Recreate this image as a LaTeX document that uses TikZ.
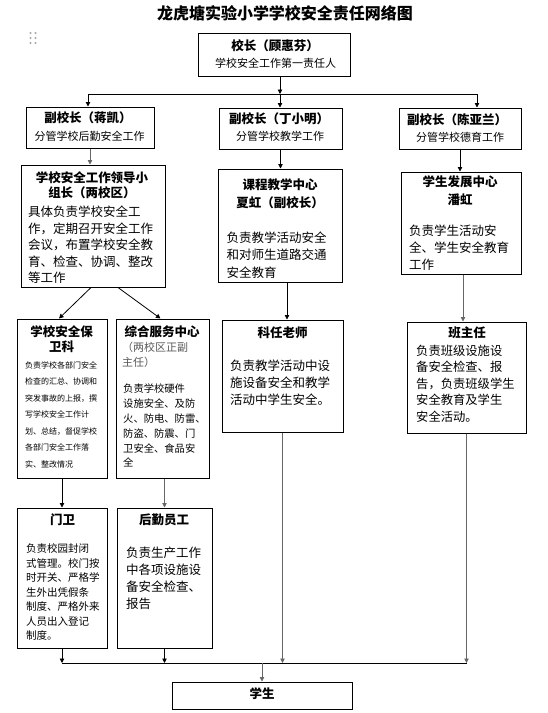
\documentclass[tikz,border=0pt]{standalone}
\usepackage{fontspec}
\setmainfont{Noto Sans CJK SC}
\usetikzlibrary{arrows.meta}
\newcommand{\setfs}[2]{\fontsize{#1pt}{#2pt}\selectfont}
\tikzset{
	box/.style={shape=rectangle, draw, line width=1pt, inner sep=0pt},
	head/.style={anchor=north, align=center, inner sep=0pt, font=\bfseries\setfs{12.5}{15}},
	sub/.style={anchor=north, align=center, inner sep=0pt, font=\setfs{11}{13}},
	body/.style={anchor=north west, align=left, inner sep=0pt},
	wire/.style={line width=0.8pt},
	link/.style={wire, -{Triangle[length=4.5pt, width=4.5pt]}},
	glink/.style={link, draw=black!60}
}

\begin{document}
\begin{tikzpicture}[x=1pt, y=-1pt]
	\useasboundingbox (0,0) rectangle (548,713);
	% Title and handle:
	\node[inner sep=0pt, font=\bfseries\setfs{16}{18}] (title) at (285,13){龙虎塘实验小学学校安全责任网络图};
	\foreach \hx in {30.5,35.5} \foreach \hy in {33,38,43} \fill[black!35] (\hx,\hy) circle (1.1);
	% Boxes and texts:
	\node[box, minimum width=152pt, minimum height=43pt] (xz) at (274,54.5){} node[head] (xzt) at (275,39.75){校长（顾惠芬）} node[sub] (xzs) at (275.5,57.5){学校安全工作第一责任人};
	\node[box, minimum width=128pt, minimum height=41pt] (vp1) at (90,127.5){} node[head] (vp1t) at (88,111.75){副校长（蒋凯）} node[sub] (vp1s) at (89.5,130.5){分管学校后勤安全工作};
	\node[box, minimum width=123pt, minimum height=41pt] (vp2) at (280.5,128.5){} node[head] (vp2t) at (279,112.75){副校长（丁小明）} node[sub] (vp2s) at (280,130.5){分管学校教学工作};
	\node[box, minimum width=122pt, minimum height=41pt] (vp3) at (460,128.5){} node[head] (vp3t) at (457,113.75){副校长（陈亚兰）} node[sub] (vp3s) at (460,131.5){分管学校德育工作};
	\node[box, minimum width=144pt, minimum height=122pt] (grp) at (93,226){} node[head] (grpt) at (92,171.75){学校安全工作领导小\\组长（两校区）} node[body, font=\setfs{12.5}{16.5}] (grpb) at (28,205.75){具体负责学校安全工\\作，定期召开安全工作\\会议，布置学校安全教\\育、检查、协调、整改\\等工作};
	\node[box, minimum width=124pt, minimum height=113pt] (kc) at (280,225.5){} node[head, font=\bfseries\setfs{12.5}{18}] (kct) at (280,178.75){课程教学中心\\夏虹（副校长）} node[body, font=\setfs{12.5}{17.5}] (kcb) at (226.5,231.4){负责教学活动安全\\和对师生道路交通\\安全教育};
	\node[box, minimum width=120pt, minimum height=102pt] (xs) at (461,223){} node[head, font=\bfseries\setfs{12.5}{17.5}] (xst) at (460,175.5){学生发展中心\\潘虹} node[body, font=\setfs{12.5}{17}] (xsb) at (409,224.75){负责学生活动安\\全、学生安全教育\\工作};
	\node[box, minimum width=90pt, minimum height=159pt] (bw) at (62,398.5){} node[head, font=\bfseries\setfs{12.5}{15.3}] (bwt) at (61.7,325.5){学校安全保\\卫科} node[body, font=\setfs{8}{16.5}] (bwb) at (25,361){负责学校各部门安全\\检查的汇总、协调和\\突发事故的上报，撰\\写学校安全工作计\\划、总结，督促学校\\各部门安全工作落\\实、整改情况};
	\node[box, minimum width=93pt, minimum height=159pt] (zh) at (162.5,398.5){} node[head] (zht) at (162,325.5){综合服务中心} node[body, font=\setfs{11}{15}, text=black!65] (zhs) at (122,341.5){（两校区正副\\主任）} node[body, font=\setfs{10.3}{14.8}] (zhb) at (123,383.9){负责学校硬件\\设施安全、及防\\火、防电、防雷、\\防盗、防震、门\\卫安全、食品安\\全};
	\node[box, minimum width=121pt, minimum height=112pt] (kr) at (282.5,376){} node[head] (krt) at (282.5,326.75){科任老师} node[body, font=\setfs{12.5}{17}] (krb) at (230,359.75){负责教学活动中设\\施设备安全和教学\\活动中学生安全。};
	\node[box, minimum width=119pt, minimum height=111pt] (bz) at (466.5,377.5){} node[head] (bzt) at (467,326.75){班主任} node[body, font=\setfs{12.3}{16.5}] (bzb) at (416,344.75){负责班级设施设\\备安全检查、报\\告，负责班级学生\\安全教育及学生\\安全活动。};
	\node[box, minimum width=90pt, minimum height=140pt] (mw) at (62,578){} node[head] (mwt) at (62.5,513.75){门卫} node[body, font=\setfs{10.5}{14.5}] (mwb) at (26,543.75){负责校园封闭\\式管理。校门按\\时开关、严格学\\生外出凭假条\\制度、严格外来\\人员出入登记\\制度。};
	\node[box, minimum width=95pt, minimum height=140pt] (hq) at (164.5,578){} node[head] (hqt) at (164,513.75){后勤员工} node[body, font=\setfs{12.5}{17}] (hqb) at (126,546.75){负责生产工作\\中各项设施设\\备安全检查、\\报告};
	\node[box, minimum width=180pt, minimum height=27pt] (xsh) at (262,695.5){} node[head] (xsht) at (262,687.75){学生};
	% Wires:
	\coordinate (j0) at (280,94);
	\coordinate (jl) at (88,94);
	\coordinate (jr) at (477,94);
	\draw[link] (xz.south -| j0) -- (j0);
	\draw[wire] (jl) -- (jr);
	\draw[link] (jl) -- (jl |- vp1.north);
	\draw[link] (j0) -- (j0 |- vp2.north);
	\draw[link] (jr) -- (jr |- vp3.north);
	\draw[glink] (vp1.south) -- (vp1.south |- grp.north);
	\draw[link] (vp2.south) -- (vp2.south |- kc.north);
	\draw[link] (vp3.south) -- (vp3.south |- xs.north);
	\draw[link] ([xshift=-2pt]grp.south) -- ([xshift=-3pt]bw.north);
	\draw[link] ([xshift=25pt]grp.south) -- ([xshift=-2pt]zh.north);
	\coordinate (krin) at ([xshift=4.5pt]kr.north);
	\coordinate (bzin) at ([xshift=-3.5pt]bz.north);
	\draw[link] (kc.south -| krin) -- (krin);
	\draw[glink] (xs.south -| bzin) -- (bzin);
	\draw[link] (bw.south) -- (mw.north);
	\draw[glink] (zh.south -| hq.north) -- (hq.north);
	% Collecting bar to the pupils:
	\coordinate (bl) at (62,663);
	\coordinate (br) at (466.5,663);
	\coordinate (bm) at (262,663);
	\draw[link] (mw.south) -- (mw.south |- bl);
	\draw[link] (hq.south) -- (hq.south |- bl);
	\draw[glink] (kr.south) -- (kr.south |- bl);
	\draw[glink] (bz.south) -- (bz.south |- bl);
	\draw[wire] (bl) -- (br);
	\draw[glink] (bm) -- (xsh.north);
\end{tikzpicture}
\end{document}
